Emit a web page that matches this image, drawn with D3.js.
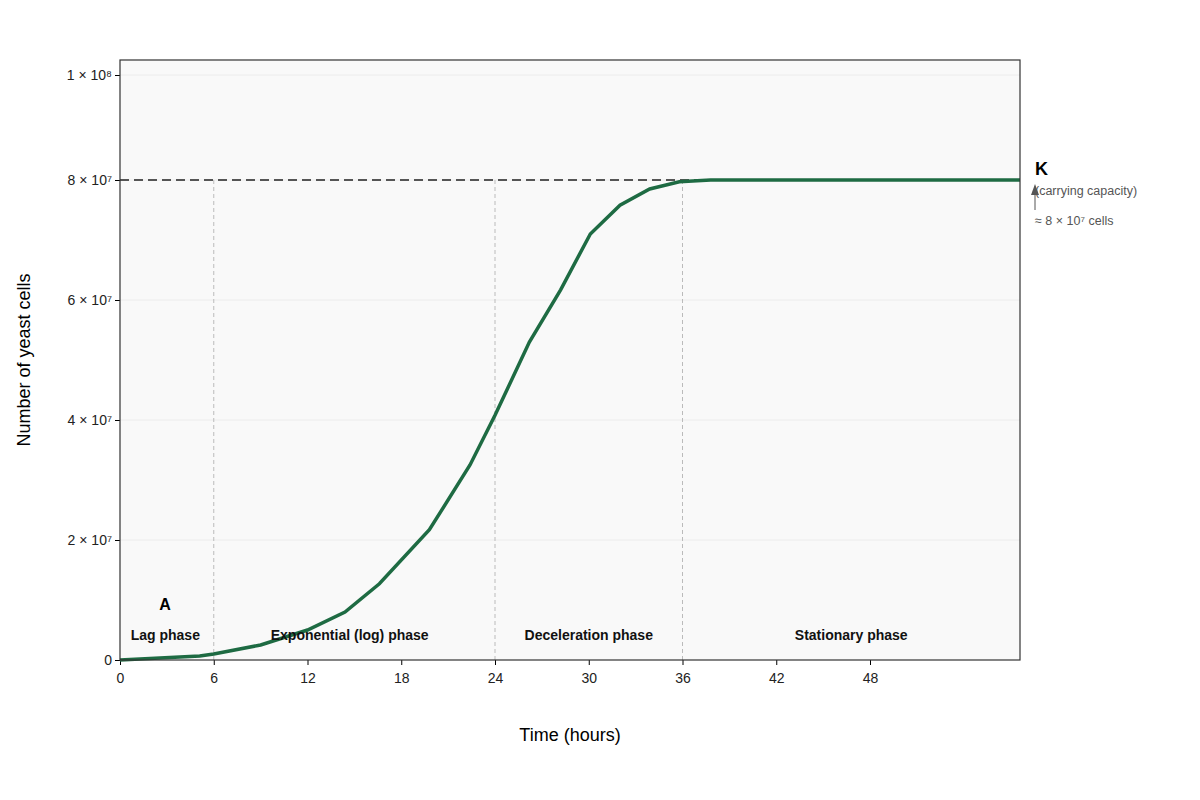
<!DOCTYPE html>
<html><head><meta charset="utf-8">
<script src="https://cdn.jsdelivr.net/npm/d3@7"></script>
<style>body{margin:0;background:#fff}text{font-family:"Liberation Sans",Arial,sans-serif}</style>
</head><body><svg id="c" width="1200" height="800"></svg>
<script>
const hours = [0,5.1,6,9,12,14.4,16.6,19.8,22.4,24,26.2,28.2,30.1,32,33.9,35.8,37.8,57.6];
const cells = [0,0.67e6,1e6,2.5e6,5e6,8e6,12.7e6,21.7e6,32.5e6,40.8e6,53e6,61.7e6,71e6,75.8e6,78.5e6,79.7e6,80e6,80e6];
const xTicks = [0,6,12,18,24,30,36,42,48];
const yTicks = [0,2e7,4e7,6e7,8e7,9.75e7];
const yTickLabels = ["0","2 × 10⁷","4 × 10⁷","6 × 10⁷","8 × 10⁷","1 × 10⁸"];
const phaseBounds = [6,24,36];
const phases = [{t:"Lag phase",x:2.9},{t:"Exponential (log) phase",x:14.7},{t:"Deceleration phase",x:30},{t:"Stationary phase",x:46.8}];
const K = 8e7;

const svg = d3.select("#c");
const L=120,R=1020,T=60,B=660;
const x = d3.scaleLinear().domain([0,57.6]).range([L,R]);
const y = d3.scaleLinear().domain([0,1e8]).range([B,T]);

svg.append("rect").attr("x",L).attr("y",T).attr("width",R-L).attr("height",B-T).attr("fill","#f9f9f9");
svg.selectAll(".g").data(yTicks.slice(1)).join("line").attr("x1",L).attr("x2",R)
  .attr("y1",d=>y(d)).attr("y2",d=>y(d)).attr("stroke","#ececec");
svg.selectAll(".pb").data(phaseBounds).join("line").attr("x1",d=>x(d)).attr("x2",d=>x(d))
  .attr("y1",y(K)).attr("y2",B).attr("stroke","#bbb").attr("stroke-dasharray","4,3");
svg.append("line").attr("x1",L).attr("x2",x(37)).attr("y1",y(K)).attr("y2",y(K))
  .attr("stroke","#222").attr("stroke-width",1.5).attr("stroke-dasharray","9,5");

const xa = svg.append("g").attr("transform",`translate(0,${B})`)
  .call(d3.axisBottom(x).tickValues(xTicks).tickSize(5));
xa.select(".domain").remove();
xa.selectAll("text").attr("font-size",14).attr("fill","#222").attr("dy","1.1em");
const ya = svg.append("g").attr("transform",`translate(${L},0)`)
  .call(d3.axisLeft(y).tickValues(yTicks).tickSize(5).tickFormat((d,i)=>yTickLabels[i]));
ya.select(".domain").remove();
ya.selectAll("text").attr("font-size",14).attr("fill","#222");

svg.append("path").datum(hours.map((h,i)=>[h,cells[i]]))
  .attr("d",d3.line().x(d=>x(d[0])).y(d=>y(d[1])))
  .attr("fill","none").attr("stroke","#1e6b43").attr("stroke-width",3.5);

svg.append("rect").attr("x",L).attr("y",T).attr("width",R-L).attr("height",B-T).attr("fill","none").attr("stroke","#333").attr("stroke-width",1.2);

svg.selectAll(".ph").data(phases).join("text").attr("x",d=>x(d.x)).attr("y",640)
  .attr("text-anchor","middle").attr("font-size",14).attr("font-weight","bold").attr("fill","#111").text(d=>d.t);
svg.append("text").attr("x",165).attr("y",610).attr("text-anchor","middle").attr("font-size",16).attr("font-weight","bold").text("A");

svg.append("text").attr("x",1035).attr("y",175).attr("font-size",18).attr("font-weight","bold").text("K");
svg.append("line").attr("x1",1035).attr("x2",1035).attr("y1",210).attr("y2",190).attr("stroke","#555");
svg.append("path").attr("d","M1031,195 L1035,184 L1039,195 Z").attr("fill","#555");
svg.append("text").attr("x",1035).attr("y",195).attr("font-size",12.5).attr("fill","#555").text("(carrying capacity)");
svg.append("text").attr("x",1035).attr("y",225).attr("font-size",12.5).attr("fill","#555").text("≈ 8 × 10⁷ cells");

svg.append("text").attr("x",570).attr("y",741).attr("text-anchor","middle").attr("font-size",18).text("Time (hours)");
svg.append("text").attr("transform","translate(30,360) rotate(-90)").attr("text-anchor","middle").attr("font-size",18).text("Number of yeast cells");
</script></body></html>
